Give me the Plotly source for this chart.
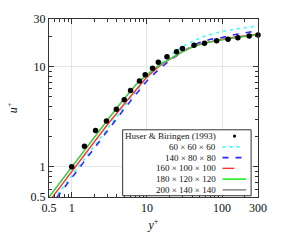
import math
import plotly.graph_objects as go

# ---------------- data ----------------
huser_y = [1, 1.48, 2.08, 2.9, 3.93, 5.0, 6.07, 7.96, 9.5, 11.9, 14.2, 18.5, 24.8,
           29.7, 42.3, 58.3, 84.6, 120, 162, 229, 300]
huser_u = [1.0, 1.61, 2.31, 2.87, 3.76, 4.67, 5.8, 7.2, 8.3, 9.65, 11.1, 12.6, 14.1,
           15.2, 16.4, 17.2, 18.2, 18.8, 19.5, 20.3, 20.8]

g60_y = [0.5, 1, 2, 3, 5, 7, 10, 15, 20, 30, 40, 60, 100, 150, 200, 300]
g60_u = [0.41, 0.82, 1.64, 2.45, 4.0, 5.5, 7.7, 10.6, 12.8, 16.0, 17.9, 20.3, 22.5, 23.8, 24.7, 25.6]

g140_y = [0.5, 1, 2, 3, 5, 7, 10, 15, 20, 30, 50, 70, 100, 150, 200, 300]
g140_u = [0.39, 0.78, 1.56, 2.33, 3.8, 5.2, 7.2, 9.7, 11.5, 14.2, 17.5, 18.8, 19.6, 21.0, 21.8, 23.0]

g160_y = [0.5, 1, 2, 3, 5, 7, 10, 15, 20, 30, 50, 70, 100, 150, 200, 300]
g160_u = [0.45, 0.89, 1.78, 2.65, 4.25, 5.8, 7.9, 10.3, 11.9, 14.3, 16.8, 17.9, 18.9, 19.9, 20.5, 21.2]

g180_y = [0.5, 1, 2, 3, 4, 5, 6, 7, 8, 10, 12, 15, 20, 25, 30, 40, 60, 80, 100, 150, 200, 300]
g180_u = [0.5, 1, 2, 2.97, 3.9, 4.8, 5.7, 6.5, 7.2, 8.35, 9.3, 10.5, 12.0, 13.2, 14.2,
          15.8, 17.3, 18.1, 18.7, 19.5, 20.1, 20.9]

g200_y = [0.5, 1, 2, 3, 4, 5, 6, 7, 8, 10, 12, 15, 20, 25, 30, 40, 60, 80, 100, 150, 200, 300]
g200_u = [0.5, 1, 2, 2.96, 3.88, 4.78, 5.68, 6.47, 7.17, 8.3, 9.25, 10.45, 11.95, 13.15, 14.15,
          15.8, 17.3, 18.1, 18.7, 19.5, 20.15, 20.95]

legend_labels = ["Huser & Biringen (1993)", "60 × 60 × 60", "140 × 80 × 80",
                 "160 × 100 × 100", "180 × 120 × 120", "200 × 140 × 140"]

x_ticks = [0.5, 1, 10, 100, 300]
y_ticks = [0.5, 1, 10, 30]
x_minor = [0.6, 0.7, 0.8, 0.9, 2, 3, 4, 5, 6, 7, 8, 9, 20, 30, 40, 50, 60, 70, 80, 90, 200]
y_minor = [0.6, 0.7, 0.8, 0.9, 2, 3, 4, 5, 6, 7, 8, 9, 20]

# ---------------- styles ----------------
FONT = "Liberation Serif"
C_CYAN = "#33ffff"
C_BLUE = "#2a2aff"
C_RED = "#ff3030"
C_GREEN = "#22ee22"
C_GRAY = "#8c8c8c"

W, H = 281, 250
L, R, T, B = 46, 258, 15, 197

fig = go.Figure()
fig.add_trace(go.Scatter(x=g60_y, y=g60_u, mode="lines",
                         line=dict(color=C_CYAN, width=1.6, dash="3px,4px")))
fig.add_trace(go.Scatter(x=g140_y, y=g140_u, mode="lines",
                         line=dict(color=C_BLUE, width=1.6, dash="6px,7px")))
fig.add_trace(go.Scatter(x=g160_y, y=g160_u, mode="lines",
                         line=dict(color=C_RED, width=1.4)))
fig.add_trace(go.Scatter(x=g180_y, y=g180_u, mode="lines",
                         line=dict(color=C_GREEN, width=1.6)))
fig.add_trace(go.Scatter(x=g200_y, y=g200_u, mode="lines",
                         line=dict(color=C_GRAY, width=0.8), opacity=0.9))
fig.add_trace(go.Scatter(x=huser_y, y=huser_u, mode="markers", cliponaxis=False,
                         marker=dict(color="black", size=5.5)))


def px(x):
    return (x - L) / (R - L)


def py(y):
    return (B - y) / (B - T)


shapes = []
annotations = []
# legend box
shapes.append(dict(type="rect", xref="paper", yref="paper",
                   x0=px(120.7), x1=px(251), y0=py(195.7), y1=py(128.3),
                   line=dict(color="#333", width=1), fillcolor="white", layer="above"))
row_y = [134.7, 145.7, 156.7, 167.7, 178.7, 189.7]
for lab, yy in zip(legend_labels, row_y):
    annotations.append(dict(xref="paper", yref="paper", x=px(217), y=py(yy),
                            text=lab, showarrow=False, xanchor="right", yanchor="middle",
                            font=dict(family=FONT, size=9, color="#111")))
# legend samples
shapes.append(dict(type="circle", xref="paper", yref="paper",
                   x0=px(232.6), x1=px(235.8), y0=py(row_y[0] + 1.6), y1=py(row_y[0] - 1.6),
                   fillcolor="black", line=dict(color="black", width=0), layer="above"))
samples = [(C_CYAN, "3px,4px", 222, 242, 1.6), (C_BLUE, "6px,7px", 222, 242, 1.6),
           (C_RED, "solid", 222, 234, 1.4), (C_GREEN, "solid", 222, 246, 1.6),
           (C_GRAY, "solid", 222, 246, 1.6)]
for (c, d, a, b, w), yy in zip(samples, row_y[1:]):
    shapes.append(dict(type="line", xref="paper", yref="paper",
                       x0=px(a), x1=px(b), y0=py(yy), y1=py(yy),
                       line=dict(color=c, width=w, dash=d), layer="above"))

axis_common = dict(type="log", showline=True, linecolor="#333", linewidth=1, mirror="allticks",
                   ticks="inside", ticklen=5, tickcolor="#333", tickwidth=1,
                   showgrid=True, gridcolor="#e6e6e6", gridwidth=1, zeroline=False,
                   tickfont=dict(family=FONT, size=12, color="#111"))

fig.update_layout(
    width=W, height=H, showlegend=False,
    margin=dict(l=L, r=W - R, t=T, b=H - B),
    paper_bgcolor="white", plot_bgcolor="white",
    xaxis=dict(axis_common, range=[math.log10(0.5), math.log10(300)],
               tickmode="array", tickvals=x_ticks, ticktext=[str(v) for v in x_ticks],
               minor=dict(tickmode="array", tickvals=x_minor, ticks="inside", ticklen=3,
                          tickcolor="#333", showgrid=False),
               title=dict(text="<i>y</i><sup>+</sup>", font=dict(family=FONT, size=12, color="#111"),
                          standoff=6)),
    yaxis=dict(axis_common, range=[math.log10(0.5), math.log10(30)],
               tickmode="array", tickvals=y_ticks, ticktext=[str(v) for v in y_ticks],
               minor=dict(tickmode="array", tickvals=y_minor, ticks="inside", ticklen=3,
                          tickcolor="#333", showgrid=False),
               title=dict(text="<i>u</i><sup>+</sup>", font=dict(family=FONT, size=12, color="#111"),
                          standoff=10)),
    shapes=shapes, annotations=annotations,
)

fig.write_html("out.html", config={"displayModeBar": False, "staticPlot": True},
               post_script="document.body.style.margin='0px';")
